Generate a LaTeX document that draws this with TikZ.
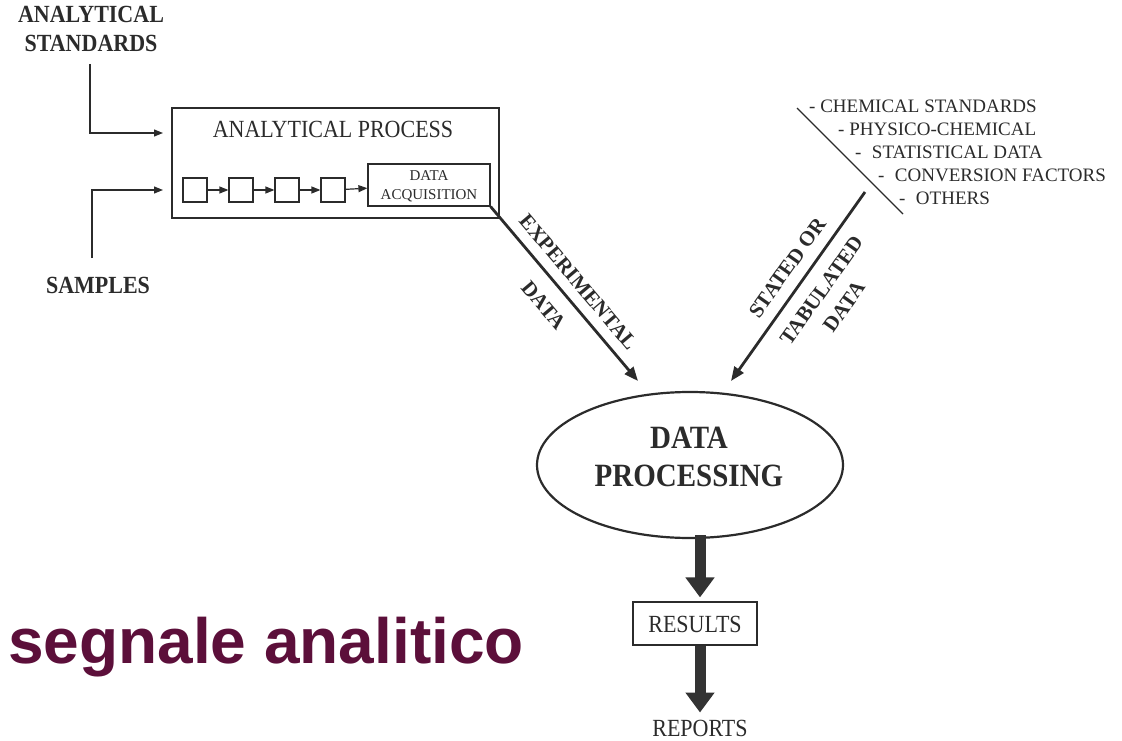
\documentclass[tikz,border=0pt]{standalone}
\usepackage{fontspec}
\setmainfont{Liberation Serif}
\newfontfamily\sansfam{Liberation Sans}
\usetikzlibrary{arrows.meta,shapes.geometric}
\definecolor{segcol}{HTML}{5C0F3A}
\definecolor{ink}{HTML}{2B2B2B}
\definecolor{blockcol}{HTML}{333333}
\begin{document}
\begin{tikzpicture}[x=1pt,y=-1pt,
  every node/.style={inner sep=0pt, text=ink},
  boldlbl/.style={font=\bfseries\fontsize{22}{26}\selectfont, align=center},
  plainlbl/.style={font=\fontsize{19}{23}\selectfont, anchor=west},
  thinbox/.style={draw=ink, line width=1.2pt},
  smallbox/.style={thinbox, minimum width=24pt, minimum height=24pt},
  thinarrow/.style={draw=ink, line width=1.2pt, -{Triangle[length=9pt,width=7pt]}},
  thickarrow/.style={draw=ink, line width=2.8pt, -{Triangle[length=14pt,width=11pt]}},
  blockarrow/.style={draw=blockcol, line width=11pt, -{Triangle[length=20pt,width=28pt]}},
  vstretch/.style={transform shape, yscale=1.12}
]
\useasboundingbox (0,0) rectangle (1122,741);

% left inputs
\node[boldlbl, vstretch] (as) at (91,29) {ANALYTICAL\\STANDARDS};
\node[boldlbl, vstretch] (samp) at (98,285) {SAMPLES};
\coordinate (asl) at (90,64);
\coordinate (ain) at (163,133);
\coordinate (spl) at (92,258);
\coordinate (sin) at (163,190);
\draw[thinarrow] (asl) |- (ain);
\draw[thinarrow] (spl) |- (sin);

% analytical process box
\node[thinbox, minimum width=327pt, minimum height=110pt] (ap) at (335.5,163) {};
\node[font=\fontsize{22}{26}\selectfont, vstretch] (aptxt) at (333,129) {ANALYTICAL PROCESS};
\node[smallbox] (b1) at (195,190) {};
\node[smallbox] (b2) at (241,190) {};
\node[smallbox] (b3) at (287,190) {};
\node[smallbox] (b4) at (333,190) {};
\node[thinbox, minimum width=122pt, minimum height=42pt] (da) at (429,185) {};
\node[font=\fontsize{15}{19}\selectfont, align=center] (datxt) at (429,186) {DATA\\ACQUISITION};
\draw[thinarrow] (b1) -- (b2);
\draw[thinarrow] (b2) -- (b3);
\draw[thinarrow] (b3) -- (b4);
\draw[thinarrow] (b4) -- (da);

% experimental data arrow
\coordinate (e1) at (638,381);
\draw[thickarrow] (da.south east) -- (e1)
  node[pos=0.50, sloped, above=10pt, font=\bfseries\fontsize{21}{25}\selectfont] (exptxt) {EXPERIMENTAL}
  node[pos=0.48, sloped, below=15pt, font=\bfseries\fontsize{21}{25}\selectfont] (expdata) {DATA};

% list of stated data
\node[plainlbl] (l1) at (809,106) {- CHEMICAL STANDARDS};
\node[plainlbl] (l2) at (838,129) {- PHYSICO-CHEMICAL};
\node[plainlbl] (l3) at (855,152) {-\hspace{0.55em}STATISTICAL DATA};
\node[plainlbl] (l4) at (878,175) {-\hspace{0.55em}CONVERSION FACTORS};
\node[plainlbl] (l5) at (899,198) {-\hspace{0.55em}OTHERS};
\coordinate (d0) at (797,108);
\coordinate (d1) at (903,214);
\draw[draw=ink, line width=1.2pt] (d0) -- (d1);

% stated or tabulated data arrow
\coordinate (s0) at (865,192);
\coordinate (s1) at (731,381);
\draw[thickarrow] (s0) -- (s1)
  node[pos=0.46, sloped, above=11pt, font=\bfseries\fontsize{21}{25}\selectfont] (sttxt) {STATED OR}
  node[pos=0.455, sloped, below=13pt, font=\bfseries\fontsize{21}{28}\selectfont, align=center] (tabtxt) {TABULATED\\DATA};

% data processing
\node[ellipse, draw=ink, line width=2.2pt, minimum width=306pt, minimum height=146pt] (dp) at (690,465) {};
\node[font=\bfseries\fontsize{29}{34}\selectfont, align=center, vstretch] (dptxt) at (689,457) {DATA\\PROCESSING};

% results and reports
\node[thinbox, minimum width=124pt, minimum height=43pt] (res) at (695,623.5) {};
\node[font=\fontsize{22}{26}\selectfont, vstretch] (restxt) at (695,624) {RESULTS};
\node[font=\fontsize{22}{26}\selectfont, vstretch] (rep) at (700,728) {REPORTS};
\draw[blockarrow, shorten >=4pt] ([yshift=4pt]dp.south -| rep.north) -- (res.north -| rep.north);
\draw[blockarrow, shorten >=7pt] (res.south -| rep.north) -- (rep.north);

% title
\node[anchor=base west, font=\sansfam\bfseries\fontsize{64}{70}\selectfont, text=segcol] (seg) at (8,663) {segnale analitico};
\end{tikzpicture}
\end{document}
